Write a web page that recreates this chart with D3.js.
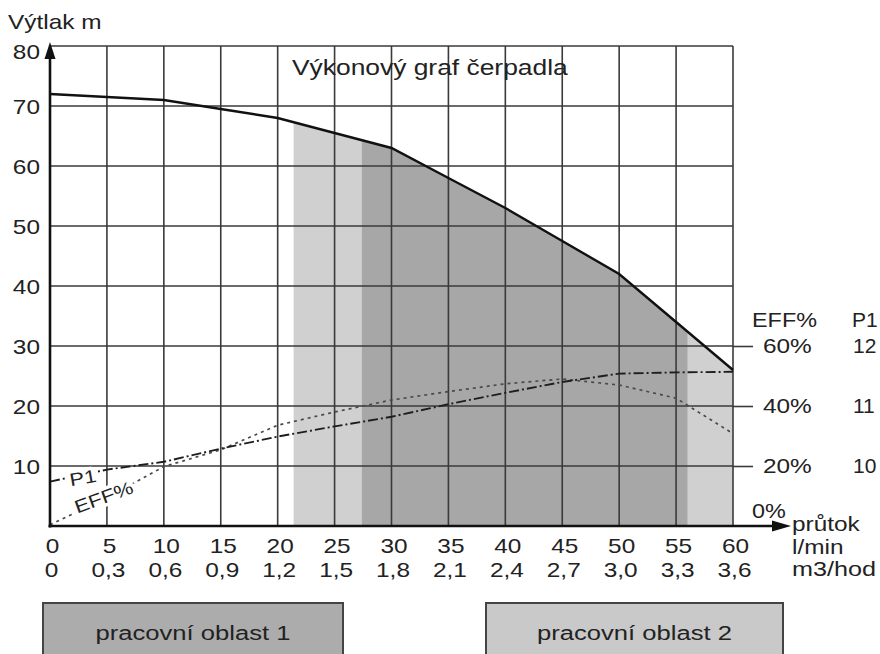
<!DOCTYPE html>
<html><head><meta charset="utf-8">
<script src="https://cdn.jsdelivr.net/npm/d3@7"></script>
<style>
html,body{margin:0;padding:0;background:#fff;}
svg{display:block;font-family:"Liberation Sans",Arial,sans-serif;}
</style></head><body><svg id="c" width="880" height="654"></svg>
<script>
// ---- data ----
const flow = [0,5,10,15,20,25,30,35,40,45,50,55,60];               // l/min
const flowM3 = ["0","0,3","0,6","0,9","1,2","1,5","1,8","2,1","2,4","2,7","3,0","3,3","3,6"]; // m3/hod
const head = [72,71.5,71,69.5,68,65.5,63,58,53,47.5,42,34,26];      // výtlak m
const eff = [0.4,9.4,19.8,25.4,33.6,38,42,44.8,47.4,49,47,42.6,30.8]; // EFF %
const p1 = [974,994,1007,1029,1049,1066,1082,1103,1122,1140,1154,1156,1157]; // P1 W
const headTicks = [10,20,30,40,50,60,70,80];
const effTicks = [20,40,60];
const p1Ticks = [1000,1100,1200];
const p1TickLabels = ["10","11","12"];
const zone1 = [27.4,56];   // pracovní oblast 1
const zone2 = [21.4,60];   // pracovní oblast 2
const legendLabels = ["pracovní oblast 1","pracovní oblast 2"];
const title = "Výkonový graf čerpadla";

// ---- setup ----
const svg = d3.select("#c");
const SX = 1.22, TXT = "#222";
const x = d3.scaleLinear([0,60],[50,733]);
const y = d3.scaleLinear([0,80],[526,46]);
const yEff = d3.scaleLinear([0,160],[526,46]);
const yP1 = d3.scaleLinear([900,1700],[526,46]);
const idx = d3.range(flow.length);

function label(px,py,s,o={}){
  const sz=o.size||20, sx=o.sx||SX, rot=o.rot||0;
  return svg.append("text")
    .attr("transform",`translate(${px},${py}) rotate(${rot}) scale(${sx},1)`)
    .attr("text-anchor",o.anchor||"start")
    .attr("font-size",sz).attr("fill",TXT).text(s);
}

// ---- zones ----
const area = d3.area().x(i=>x(flow[i])).y0(y(0)).y1(i=>y(head[i]));
const defs = svg.append("defs");
[["z2",zone2],["z1",zone1]].forEach(([id,z])=>{
  defs.append("clipPath").attr("id",id).append("rect")
    .attr("x",x(z[0])).attr("y",0).attr("width",x(z[1])-x(z[0])).attr("height",654);
});
svg.append("path").attr("d",area(idx)).attr("fill","#d0d0d0").attr("clip-path","url(#z2)");
svg.append("path").attr("d",area(idx)).attr("fill","#a7a7a7").attr("clip-path","url(#z1)");

// ---- grid ----
const grid = svg.append("g").attr("stroke","#3a3a3a").attr("stroke-width",1.6);
flow.filter(v=>v>0).forEach(v=>grid.append("line")
  .attr("x1",x(v)).attr("x2",x(v)).attr("y1",y(0)).attr("y2",y(80)));
headTicks.forEach(v=>grid.append("line")
  .attr("x1",x(0)).attr("x2",x(60)).attr("y1",y(v)).attr("y2",y(v)));

// ---- curves ----
svg.append("path").attr("d",d3.line().x(i=>x(flow[i])).y(i=>yEff(eff[i]))(idx))
  .attr("fill","none").attr("stroke","#4a4a4a").attr("stroke-width",1.7).attr("stroke-dasharray","3,4");
svg.append("path").attr("d",d3.line().x(i=>x(flow[i])).y(i=>yP1(p1[i]))(idx))
  .attr("fill","none").attr("stroke","#1e1e1e").attr("stroke-width",1.9).attr("stroke-dasharray","10,3,2,3");
svg.append("path").attr("d",d3.line().x(i=>x(flow[i])).y(i=>y(head[i]))(idx))
  .attr("fill","none").attr("stroke","#111").attr("stroke-width",2.4);

// curve labels with white halo
[["P1",84,484,-10],["EFF%",106,503,-20]].forEach(([s,px,py,r])=>{
  label(px,py,s,{size:18,rot:r,anchor:"middle"})
    .attr("stroke","#fff").attr("stroke-width",7).attr("paint-order","stroke").attr("stroke-linejoin","round");
});

// ---- axes ----
function styleAxis(g){ g.select(".domain").remove(); g.selectAll("text").attr("font-size",20).attr("fill",TXT).attr("font-family","Liberation Sans, Arial, sans-serif"); }

const ax1 = svg.append("g").attr("transform",`translate(${x(0)},0)`)
  .call(d3.axisLeft(y).tickValues(headTicks).tickSize(0)).call(styleAxis);
ax1.selectAll("text").attr("x",-10/SX).attr("transform",`scale(${SX},1)`)
  .attr("dy",d=>d===80?"0.62em":"0.35em");

const axB1 = svg.append("g").attr("transform",`translate(0,${y(0)})`)
  .call(d3.axisBottom(x).tickValues(flow).tickSize(0).tickPadding(12.5)).call(styleAxis);
axB1.selectAll("text").attr("x",2/SX).attr("transform",`scale(${SX},1)`);

const axB2 = svg.append("g").attr("transform",`translate(0,${y(0)})`)
  .call(d3.axisBottom(x).tickValues(flow).tickSize(0).tickPadding(36.5).tickFormat((d,i)=>flowM3[i])).call(styleAxis);
axB2.selectAll("text").attr("x",1/SX).attr("transform",`scale(${SX},1)`);

const axE = svg.append("g").attr("transform",`translate(${x(60)},0)`)
  .call(d3.axisRight(yEff).tickValues(effTicks).tickSize(20).tickFormat(d=>d+"%")).call(styleAxis);
axE.selectAll("line").attr("stroke","#3a3a3a").attr("stroke-width",1.6);
axE.selectAll("text").attr("x",30/SX).attr("transform",`scale(${SX},1)`);

const axP = svg.append("g").attr("transform",`translate(${x(60)},0)`)
  .call(d3.axisRight(yP1).tickValues(p1Ticks).tickSize(0).tickFormat((d,i)=>p1TickLabels[i])).call(styleAxis);
axP.selectAll("text").attr("x",120/1.05).attr("transform",`scale(1.05,1)`);

// axis lines with arrows
svg.append("line").attr("x1",x(0)).attr("x2",x(0)).attr("y1",y(0)+1.5).attr("y2",56)
  .attr("stroke","#111").attr("stroke-width",2.6);
svg.append("path").attr("d",`M${x(0)},42 L${x(0)-5.5},59 L${x(0)+5.5},59 Z`).attr("fill","#111");
svg.append("line").attr("x1",x(0)-1.5).attr("x2",776).attr("y1",y(0)).attr("y2",y(0))
  .attr("stroke","#111").attr("stroke-width",2.6);
svg.append("path").attr("d",`M791,${y(0)} L772,${y(0)-5.5} L772,${y(0)+5.5} Z`).attr("fill","#111");

// ---- texts ----
label(8,29,"Výtlak m");
label(292,75,title,{size:22,sx:1.2});
label(752,327,"EFF%",{sx:1.17});
label(852,327,"P1",{sx:1.05});
label(752,518,"0%",{sx:1.17});
label(792,531,"průtok");
label(792,554,"l/min");
label(792,576,"m3/hod",{sx:1.26});

// ---- legend ----
const legX = [[43,343],[486,783]], legFill = ["#acacac","#c9c9c9"];
legendLabels.forEach((s,i)=>{
  svg.append("rect").attr("x",legX[i][0]).attr("y",603).attr("width",legX[i][1]-legX[i][0]).attr("height",70)
    .attr("fill",legFill[i]).attr("stroke","#444").attr("stroke-width",2);
  label((legX[i][0]+legX[i][1])/2,640,s,{anchor:"middle",sx:1.28});
});
</script></body></html>
